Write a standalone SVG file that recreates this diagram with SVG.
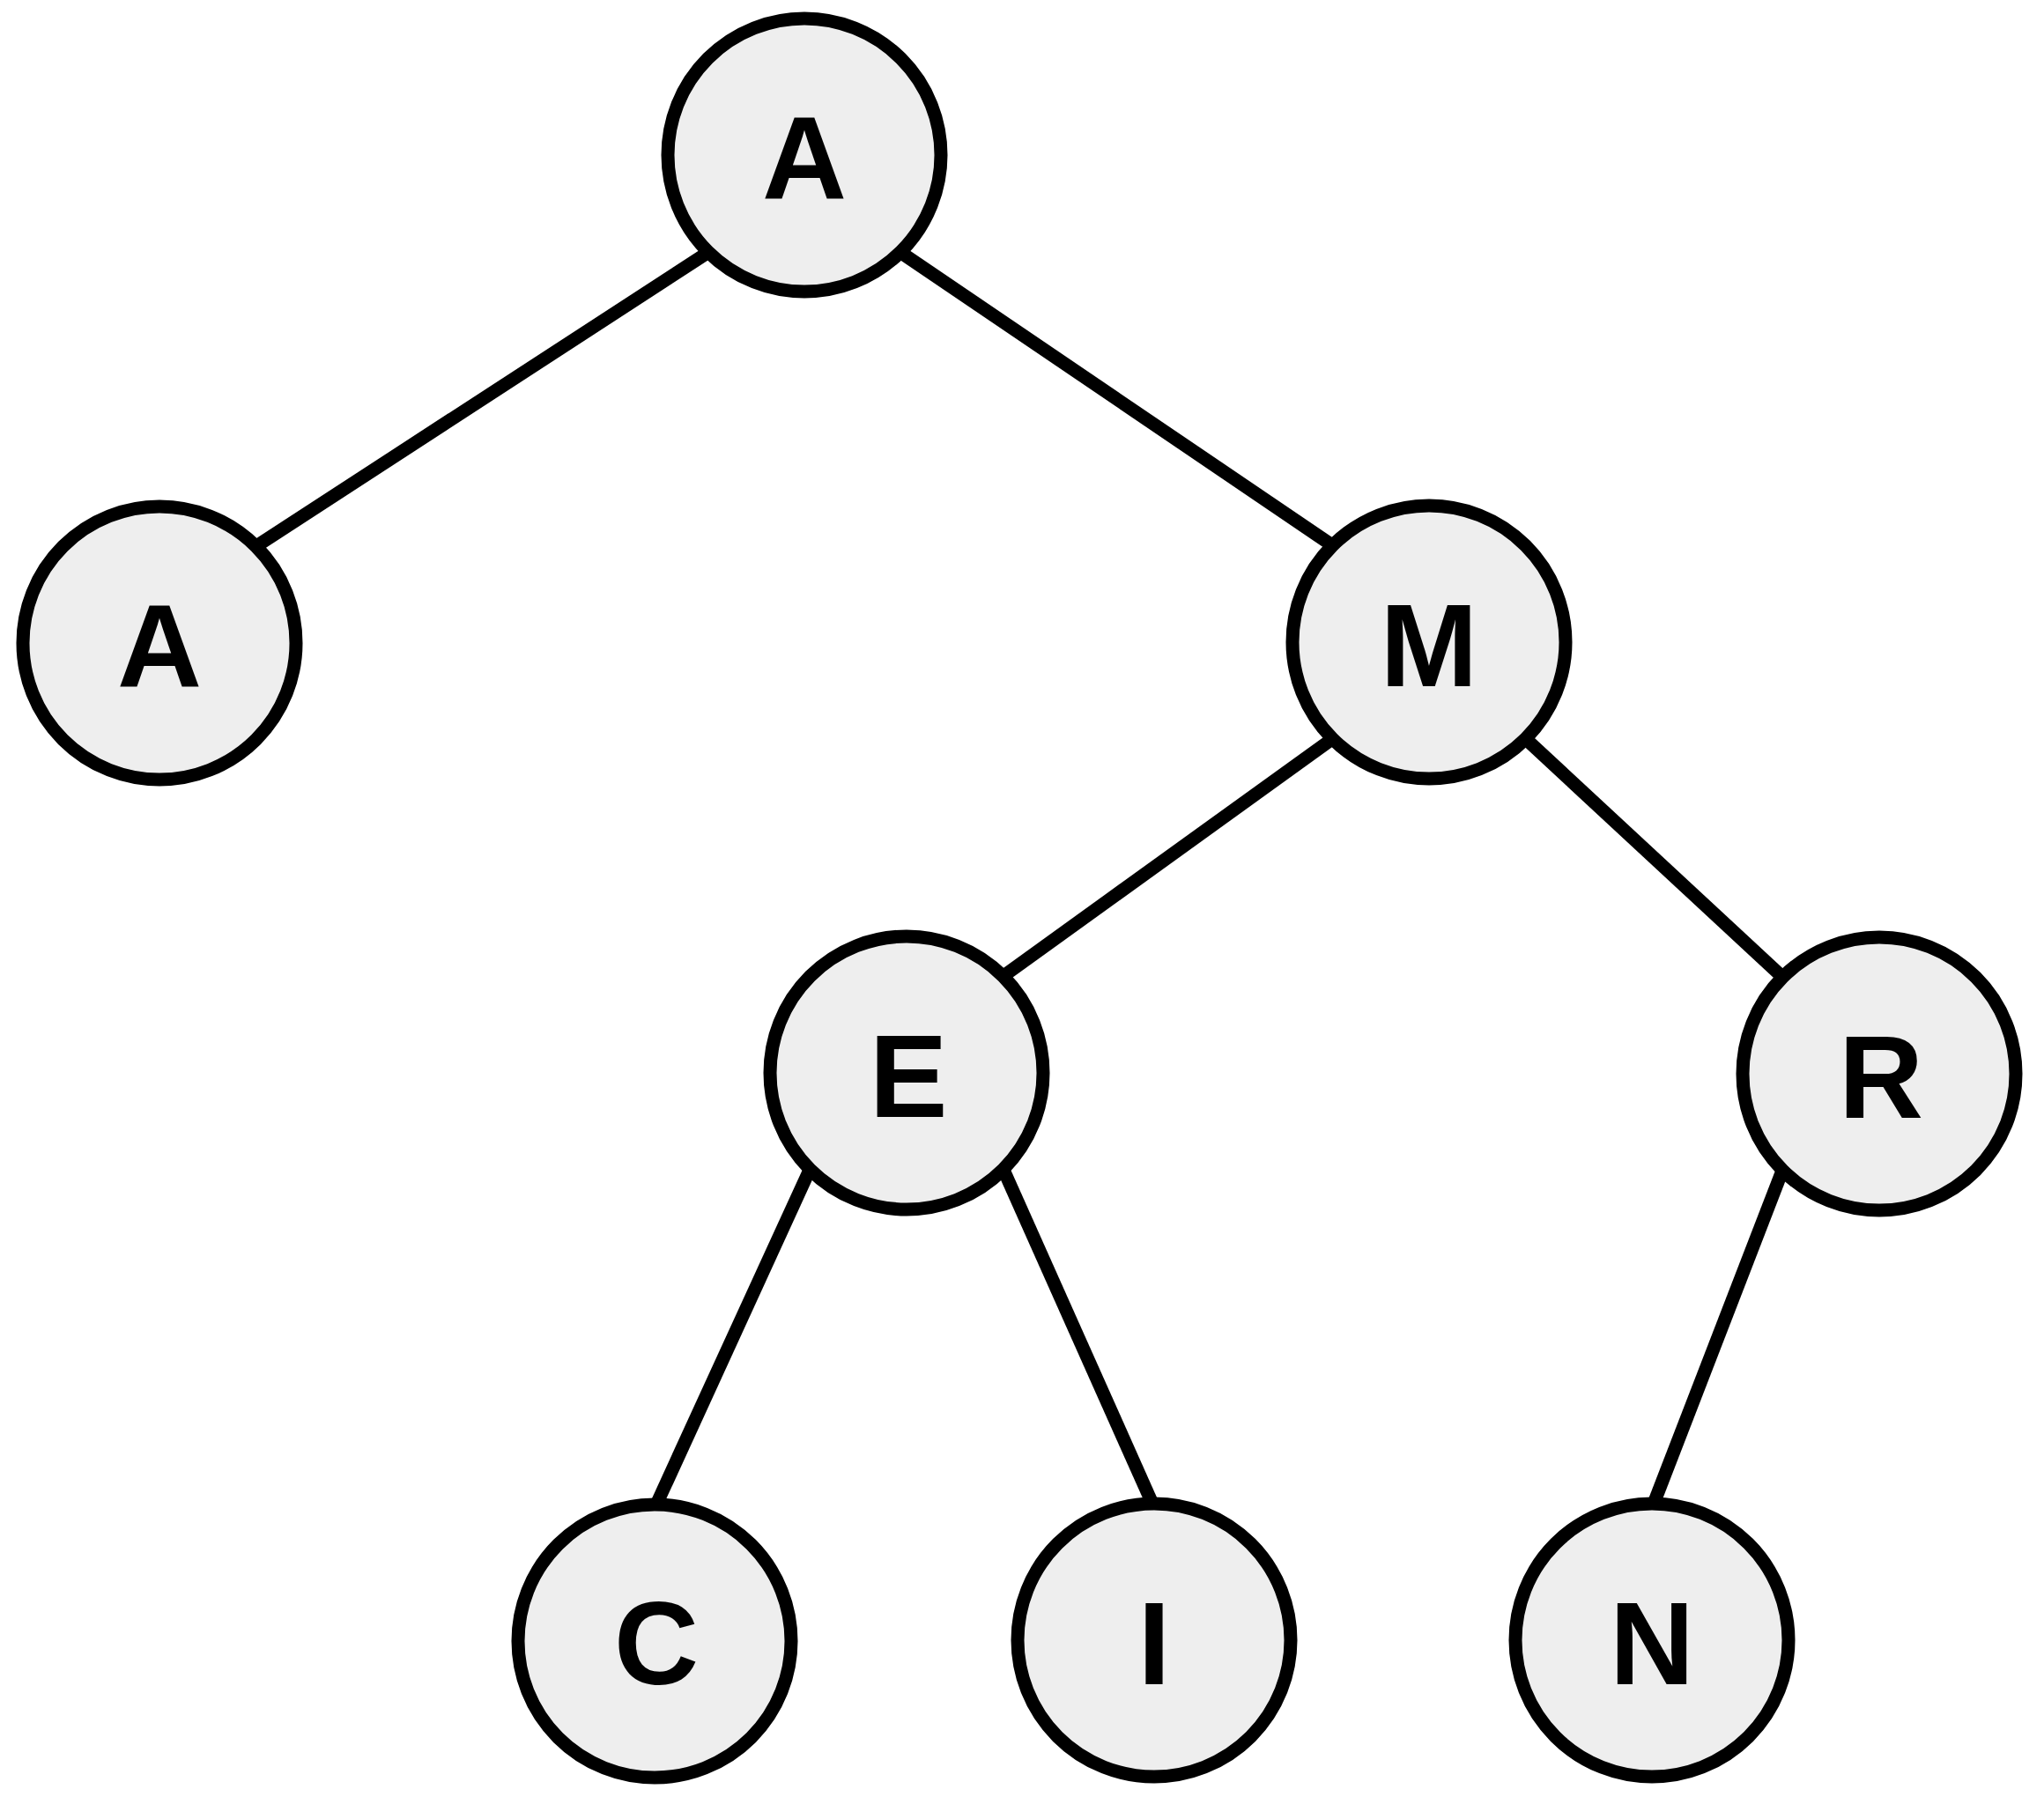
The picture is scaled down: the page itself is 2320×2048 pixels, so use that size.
<svg xmlns="http://www.w3.org/2000/svg" width="2320" height="2048" viewBox="0 0 2320 2048">
<style>
.node circle { fill: #eeeeee; stroke: #000000; stroke-width: 15; }
.node text { font-family: "Liberation Sans", Arial, sans-serif; font-weight: bold; font-size: 133px; text-anchor: middle; fill: #000000; }
.edges line { stroke: #000000; stroke-width: 15; stroke-linecap: butt; }
</style>
<rect x="0" y="0" width="2320" height="2048" fill="#ffffff"/>
<g id="edges" class="edges">
<line x1="803" y1="287" x2="291" y2="620"/>
<line x1="1023" y1="287" x2="1512" y2="619"/>
<line x1="1512" y1="839" x2="1139" y2="1108"/>
<line x1="1732" y1="839" x2="2023" y2="1109"/>
<line x1="919" y1="1328" x2="745" y2="1708"/>
<line x1="1139" y1="1328" x2="1308" y2="1707"/>
<line x1="2023" y1="1329" x2="1877" y2="1707"/>
</g>
<g id="node-root" class="node"><circle cx="913" cy="176" r="155"/><text x="913" y="226">A</text></g>
<g id="node-a" class="node"><circle cx="181" cy="730" r="155"/><text x="181" y="780">A</text></g>
<g id="node-m" class="node"><circle cx="1622" cy="729" r="155"/><text x="1622" y="779">M</text></g>
<g id="node-e" class="node"><circle cx="1029" cy="1218" r="155"/><text x="1031" y="1268">E</text></g>
<g id="node-r" class="node"><circle cx="2133" cy="1219" r="155"/><text x="2135" y="1269">R</text></g>
<g id="node-c" class="node"><circle cx="743" cy="1863" r="155"/><text x="745" y="1912">C</text></g>
<g id="node-i" class="node"><circle cx="1310" cy="1862" r="155"/><text x="1310" y="1912">I</text></g>
<g id="node-n" class="node"><circle cx="1875" cy="1862" r="155"/><text x="1875" y="1912">N</text></g>
</svg>
